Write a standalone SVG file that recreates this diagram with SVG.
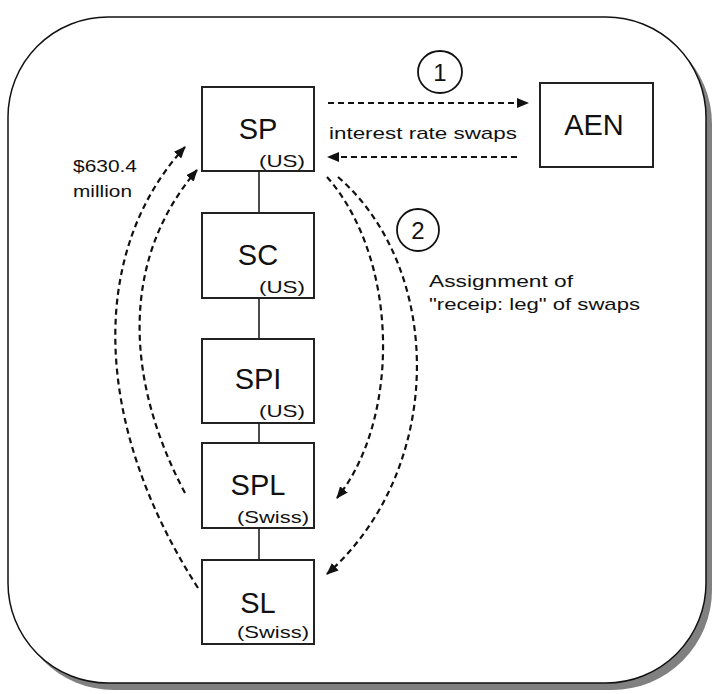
<svg xmlns="http://www.w3.org/2000/svg" width="716" height="694" viewBox="0 0 716 694">
<style>
.box{fill:#fff;stroke:#222;stroke-width:2}
.big{font-family:"Liberation Sans",Arial,sans-serif;font-size:29px;fill:#111;text-anchor:middle}
.sm{font-family:"Liberation Sans",Arial,sans-serif;font-size:17px;fill:#111}
.lbl{font-family:"Liberation Sans",Arial,sans-serif;font-size:17px;fill:#111}
.num{font-family:"Liberation Sans",Arial,sans-serif;font-size:24px;fill:#111;text-anchor:middle}
.dash{fill:none;stroke:#111;stroke-width:2.2;stroke-dasharray:6 4}
.solid{stroke:#111;stroke-width:1.5}
</style>
<defs>
<marker id="ah" viewBox="0 0 12 10" refX="11" refY="5" markerWidth="12" markerHeight="10" markerUnits="userSpaceOnUse" orient="auto">
<path d="M0,0 L12,5 L0,10 Z" fill="#111"/>
</marker>
</defs>
<rect width="716" height="694" fill="#fff"/>
<g id="frame">
<rect x="14" y="24" width="698" height="666" rx="100" ry="100" fill="#808080"/>
<rect x="8" y="17" width="698" height="666" rx="100" ry="100" fill="#fff" stroke="#111" stroke-width="1.5"/>
</g>
<g id="connectors">
<line class="solid" x1="259" y1="171" x2="259" y2="213"/>
<line class="solid" x1="259" y1="298" x2="259" y2="339"/>
<line class="solid" x1="259" y1="423" x2="259" y2="443"/>
<line class="solid" x1="259" y1="528" x2="259" y2="560"/>
<line class="dash" x1="328" y1="103" x2="528" y2="103" marker-end="url(#ah)"/>
<line class="dash" x1="517" y1="157" x2="328" y2="157" marker-end="url(#ah)"/>
<path class="dash" d="M198,588 C90,420 90,250 185,147" marker-end="url(#ah)"/>
<path class="dash" d="M185,493 C125,380 120,260 197,170" marker-end="url(#ah)"/>
<path class="dash" d="M327,177 C400,260 400,420 337,498" marker-end="url(#ah)"/>
<path class="dash" d="M338,177 C445,270 445,470 327,574" marker-end="url(#ah)"/>
</g>
<g id="SP">
<rect class="box" x="202" y="87" width="112" height="84"/>
<text class="big" x="258" y="139">SP</text>
<text class="sm" x="259" y="167" textLength="46" lengthAdjust="spacingAndGlyphs">(US)</text>
</g>
<g id="SC">
<rect class="box" x="202" y="213" width="112" height="85"/>
<text class="big" x="258" y="265">SC</text>
<text class="sm" x="259" y="293" textLength="46" lengthAdjust="spacingAndGlyphs">(US)</text>
</g>
<g id="SPI">
<rect class="box" x="202" y="339" width="112" height="84"/>
<text class="big" x="258" y="389">SPI</text>
<text class="sm" x="259" y="417" textLength="46" lengthAdjust="spacingAndGlyphs">(US)</text>
</g>
<g id="SPL">
<rect class="box" x="202" y="443" width="112" height="85"/>
<text class="big" x="258" y="495">SPL</text>
<text class="sm" x="237" y="523" textLength="72" lengthAdjust="spacingAndGlyphs">(Swiss)</text>
</g>
<g id="SL">
<rect class="box" x="202" y="560" width="112" height="84"/>
<text class="big" x="258" y="613">SL</text>
<text class="sm" x="237" y="638" textLength="72" lengthAdjust="spacingAndGlyphs">(Swiss)</text>
</g>
<g id="AEN">
<rect class="box" x="540" y="83" width="113" height="84"/>
<text class="big" x="594" y="135">AEN</text>
</g>
<g id="step1">
<ellipse cx="440" cy="72" rx="22" ry="21" fill="none" stroke="#111" stroke-width="1.8"/>
<text class="num" x="440" y="81">1</text>
</g>
<g id="step2">
<ellipse cx="418" cy="230" rx="21" ry="21" fill="none" stroke="#111" stroke-width="1.8"/>
<text class="num" x="418" y="239">2</text>
</g>
<g id="labels">
<text class="lbl" x="329" y="139" textLength="188" lengthAdjust="spacingAndGlyphs">interest rate swaps</text>
<text class="lbl" x="73" y="172" textLength="64" lengthAdjust="spacingAndGlyphs">$630.4</text>
<text class="lbl" x="73" y="197" textLength="59" lengthAdjust="spacingAndGlyphs">million</text>
<text class="lbl" x="429" y="287" textLength="144" lengthAdjust="spacingAndGlyphs">Assignment of</text>
<text class="lbl" x="429" y="310" textLength="211" lengthAdjust="spacingAndGlyphs">"receip: leg" of swaps</text>
</g>
</svg>
